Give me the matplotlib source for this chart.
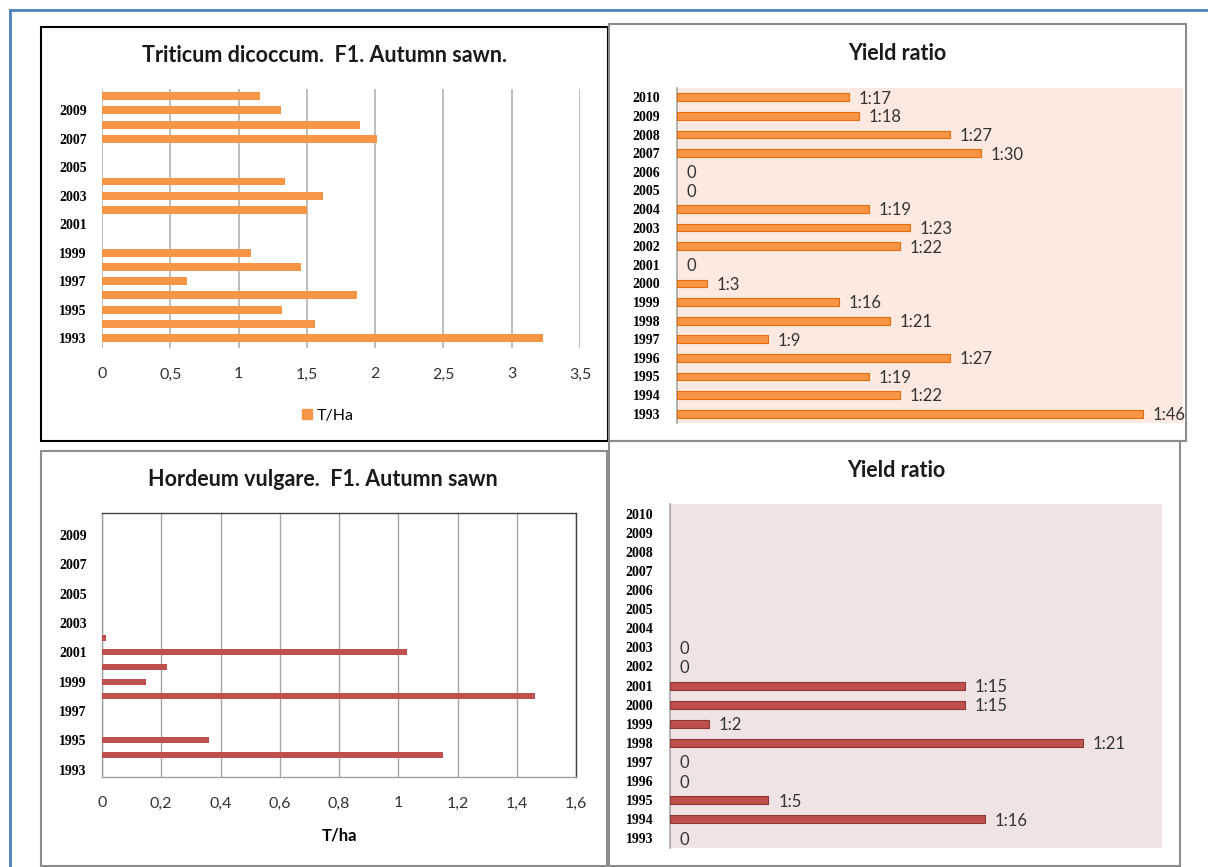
import numpy as np
import matplotlib
matplotlib.use("Agg")
import matplotlib.pyplot as plt
from matplotlib.patches import Rectangle, Patch
from matplotlib.lines import Line2D
from matplotlib.ticker import FuncFormatter

W, H = 1208, 867

years = list(range(1993, 2011))

# T/ha, 1993 … 2010 (nan = no harvest recorded)
triticum_t_ha = [3.23, 1.56, 1.32, 1.87, 0.62, 1.46, 1.09, np.nan, np.nan, 1.50,
                 1.62, 1.34, np.nan, np.nan, 2.01, 1.89, 1.31, 1.16]
triticum_ratio = [46, 22, 19, 27, 9, 21, 16, 3, 0, 22, 23, 19, 0, 0, 30, 27, 18, 17]

hordeum_t_ha = [np.nan, 1.15, 0.36, np.nan, np.nan, 1.46, 0.15, 0.22, 1.03, 0.015,
                np.nan, np.nan, np.nan, np.nan, np.nan, np.nan, np.nan, np.nan]
hordeum_ratio = [0, 16, 5, 0, 0, 21, 2, 15, 15, 0, 0,
                 None, None, None, None, None, None, None]

ORANGE, ORANGE_EDGE = "#F79646", "#E46C0A"
RED, RED_EDGE = "#C0504D", "#8C3836"

TITLE_FONT = dict(family="Lato", weight="bold", size=15.5, color="#1a1a1a")
YEAR_FONT = dict(family="Liberation Serif", weight="bold", size=10)
NUM_FONT = dict(family="Lato", size=12, color="#333333")


def box(x0, y0, x1, y1):
    """pixel box -> figure fraction [left, bottom, width, height]"""
    return [x0 / W, 1 - y1 / H, (x1 - x0) / W, (y1 - y0) / H]


def frame(fig, x0, y0, x1, y1, color, lw=1.5):
    fig.add_artist(Rectangle((x0 / W, 1 - y1 / H), (x1 - x0) / W, (y1 - y0) / H,
                             transform=fig.transFigure, fill=False,
                             ec=color, lw=lw))


def comma_fmt(v, _):
    s = f"{v:g}"
    return s.replace(".", ",")


def year_axis(ax, every=1, pad=10):
    ax.set_ylim(1992.5, 2010.5)
    ticks = years[::every]
    ax.set_yticks(ticks)
    ax.set_yticklabels([str(y) for y in ticks], **YEAR_FONT)
    ax.tick_params(axis="y", length=0, pad=pad)


def tonnage_panel(ax, values, xmax, step, color, height):
    ax.barh(years, values, height=height, color=color, zorder=3)
    ax.set_xlim(0, xmax)
    ax.set_xticks(np.arange(0, xmax + step / 2, step))
    ax.xaxis.set_major_formatter(FuncFormatter(comma_fmt))
    for lab in ax.get_xticklabels():
        lab.set_fontfamily("Lato")
        lab.set_fontsize(11.5)
        lab.set_color("#333333")
    ax.tick_params(axis="x", length=0, pad=14)
    ax.grid(axis="x", color="#B8B8B8", lw=1.3, zorder=0)
    year_axis(ax, every=2, pad=11)


def ratio_panel(ax, ratios, xmax, color, edge, bg):
    # zero / missing ratios get no bar, only the label
    vals = [r if r else np.nan for r in ratios]
    ax.set_facecolor(bg)
    ax.barh(years, vals, height=0.42, color=color, ec=edge, lw=0.8, zorder=3)
    for y, r in zip(years, ratios):
        if r is None:
            continue
        txt = f"1:{r}" if r > 0 else "0"
        ax.annotate(txt, (r, y), xytext=(7, -1), textcoords="offset points",
                    ha="left", va="center", **NUM_FONT)
    ax.set_xlim(0, xmax)
    ax.set_xticks([])
    for side in ("top", "right", "bottom"):
        ax.spines[side].set_visible(False)
    ax.spines["left"].set_color("#A6A6A6")
    ax.spines["left"].set_linewidth(1.2)
    year_axis(ax, every=1, pad=12)


fig = plt.figure(figsize=(W / 100, H / 100), dpi=100)

# ── outer page border
fig.add_artist(Line2D([10 / W, 1], [1 - 10 / H] * 2, transform=fig.transFigure,
                      color="#4F81BD", lw=2))
fig.add_artist(Line2D([10 / W] * 2, [0, 1 - 10 / H], transform=fig.transFigure,
                      color="#4F81BD", lw=2))

# ── Triticum, T/ha
ax1 = fig.add_axes(box(102, 89, 580, 348))
tonnage_panel(ax1, triticum_t_ha, 3.5, 0.5, ORANGE, 0.56)
ax1.set_ylim(1992.3, 2010.5)
for s in ax1.spines.values():
    s.set_visible(False)
fig.text(325 / W, 1 - 56 / H, "Triticum dicoccum.  F1. Autumn sawn.",
         ha="center", va="center", **TITLE_FONT)
fig.legend(handles=[Patch(color=ORANGE, label="T/Ha")], loc="center",
           bbox_to_anchor=(328 / W, 1 - 416 / H), frameon=False,
           handlelength=0.6, handleheight=0.6, handletextpad=0.3,
           prop=dict(family="Lato", size=11.5))
frame(fig, 41, 27, 608, 441, "black")

# ── Triticum, yield ratio
ax2 = fig.add_axes(box(677, 88, 1183, 423))
ratio_panel(ax2, triticum_ratio, 50, ORANGE, ORANGE_EDGE, "#FDE9E0")
fig.text(897 / W, 1 - 53 / H, "Yield ratio", ha="center", va="center",
         **TITLE_FONT)
frame(fig, 609, 24, 1186, 441, "#8C8C8C")

# ── Hordeum, T/ha
ax3 = fig.add_axes(box(102, 513, 576, 777))
tonnage_panel(ax3, hordeum_t_ha, 1.6, 0.2, RED, 0.42)
ax3.grid(axis="x", color="#A6A6A6", lw=1.0, zorder=0)
for side, c in (("top", "#404040"), ("right", "#404040"),
                ("bottom", "#A0A0A0"), ("left", "#A0A0A0")):
    ax3.spines[side].set_color(c)
    ax3.spines[side].set_linewidth(1.0)
ax3.set_xlabel("T/ha", family="Lato", weight="bold", size=12, labelpad=12)
fig.text(323 / W, 1 - 479 / H, "Hordeum vulgare.  F1. Autumn sawn",
         ha="center", va="center", **TITLE_FONT)
frame(fig, 41, 451, 607, 866, "#8C8C8C")

# ── Hordeum, yield ratio
ax4 = fig.add_axes(box(670, 504, 1162, 848))
ratio_panel(ax4, hordeum_ratio, 25, RED, RED_EDGE, "#F0E3E3")
fig.text(896 / W, 1 - 470 / H, "Yield ratio", ha="center", va="center",
         **TITLE_FONT)
frame(fig, 609, 441, 1180, 866, "#8C8C8C")

fig.savefig("out.png", dpi=100)
